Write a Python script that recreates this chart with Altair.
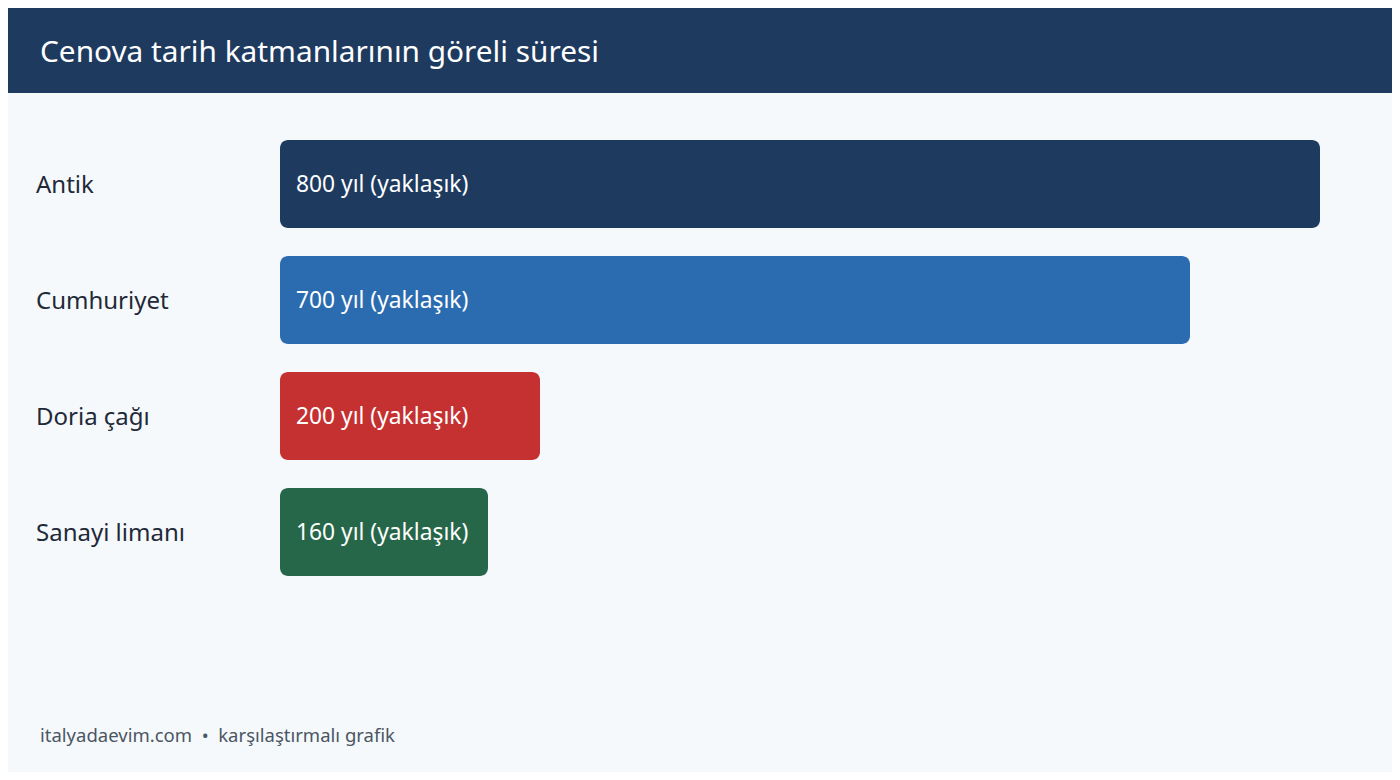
import altair as alt
import pandas as pd

categories = ["Antik", "Cumhuriyet", "Doria çağı", "Sanayi limanı"]
years = [800, 700, 200, 160]
value_labels = ["800 yıl (yaklaşık)", "700 yıl (yaklaşık)", "200 yıl (yaklaşık)", "160 yıl (yaklaşık)"]
colors = ["#1e3a5f", "#2b6cb0", "#c53030", "#276749"]
title_text = "Cenova tarih katmanlarının göreli süresi"
footer_text = "italyadaevim.com\u00a0\u00a0•\u00a0\u00a0karşılaştırmalı grafik"

FONT = "Noto Sans"
W, H = 1384, 764

df = pd.DataFrame({"cat": categories, "years": years, "label": value_labels, "color": colors})

x_scale = alt.Scale(domain=[0, 800], range=[272, 1312])
y_scale = alt.Scale(domain=categories, range=[132, 568], paddingInner=28 / 116, paddingOuter=0)

base = alt.Chart(df)

header = alt.Chart(pd.DataFrame({"a": [0]})).mark_rect(color="#1e3a5f").encode(
    x=alt.value(-8), x2=alt.value(W + 8), y=alt.value(-8), y2=alt.value(85)
)
title = alt.Chart(pd.DataFrame({"t": [title_text]})).mark_text(
    align="left", baseline="middle", font=FONT, fontSize=29.8, color="white"
).encode(x=alt.value(32), y=alt.value(45), text="t:N")

bars = base.mark_bar(cornerRadius=8).encode(
    x=alt.X("years:Q", scale=x_scale, axis=None),
    x2=alt.value(272),
    y=alt.Y("cat:N", scale=y_scale, axis=None),
    color=alt.Color("color:N", scale=None, legend=None),
)
cat_labels = base.mark_text(
    align="left", baseline="middle", font=FONT, fontSize=24, color="#1f2937", dy=2
).encode(x=alt.value(28), y=alt.Y("cat:N", scale=y_scale, axis=None), text="cat:N")
val_labels = base.mark_text(
    align="left", baseline="middle", font=FONT, fontSize=22.8, color="white", dy=1
).encode(x=alt.value(288), y=alt.Y("cat:N", scale=y_scale, axis=None), text="label:N")

footer = alt.Chart(pd.DataFrame({"t": [footer_text]})).mark_text(
    align="left", baseline="middle", font=FONT, fontSize=18.5, color="#4b5563"
).encode(x=alt.value(32), y=alt.value(728), text="t:N")

chart = alt.layer(header, title, bars, cat_labels, val_labels, footer).properties(
    width=W, height=H, autosize=alt.AutoSizeParams(type="none"), padding=0, background="#f5f9fc"
).configure_view(stroke=None)

chart.save("out.html", embed_options={"renderer": "svg", "actions": False})
